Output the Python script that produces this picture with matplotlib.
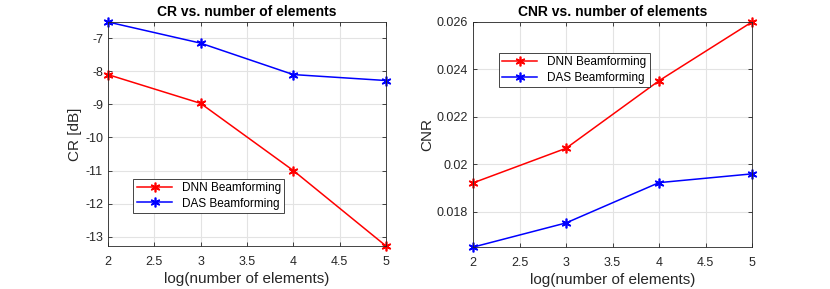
import matplotlib
matplotlib.use('Agg')
import matplotlib.pyplot as plt

plt.rcParams['font.family'] = ['Liberation Sans', 'DejaVu Sans']

# datos
x = [2, 3, 4, 5]
cr_dnn = [-8.10, -8.97, -11.00, -13.28]
cr_das = [-6.51, -7.15, -8.10, -8.28]
cnr_dnn = [0.01921, 0.02067, 0.02352, 0.02600]
cnr_das = [0.01650, 0.01752, 0.01922, 0.01959]

xticks = [2, 2.5, 3, 3.5, 4, 4.5, 5]
xticklabels = ['2', '2.5', '3', '3.5', '4', '4.5', '5']
cr_ticks = [-13, -12, -11, -10, -9, -8, -7]
cnr_ticks = [0.018, 0.020, 0.022, 0.024, 0.026]
cnr_ticklabels = ['0.018', '0.02', '0.022', '0.024', '0.026']

fig = plt.figure(figsize=(8.3, 2.89), dpi=100)
ax1 = fig.add_axes([0.130, 0.149, 0.335, 0.775])
ax2 = fig.add_axes([0.570, 0.145, 0.336, 0.779])

asterisco = (6, 2, 0)  # como el '*' de matlab


def estilo(ax):
    ax.grid(True, color='#e3e3e3', linewidth=0.8)
    ax.set_axisbelow(True)
    for s in ax.spines.values():
        s.set_color('#262626')
        s.set_linewidth(0.6)
    ax.tick_params(direction='in', length=3, width=0.6, colors='#262626',
                   labelsize=9, top=True, right=True, labeltop=False, labelright=False)
    ax.tick_params(axis='x', pad=7)
    ax.set_xticks(xticks)
    ax.set_xticklabels(xticklabels)
    ax.set_xlim(2, 5)


def series(ax, dnn, das):
    ax.plot(x, dnn, color='red', marker=asterisco, markersize=7, markeredgewidth=1.2,
            linewidth=1.1, label='DNN Beamforming', clip_on=False)
    ax.plot(x, das, color='blue', marker=asterisco, markersize=7, markeredgewidth=1.2,
            linewidth=1.1, label='DAS Beamforming', clip_on=False)


series(ax1, cr_dnn, cr_das)
estilo(ax1)
ax1.set_ylim(min(cr_dnn), max(cr_das))
ax1.set_yticks(cr_ticks)
ax1.set_yticklabels([str(t) for t in cr_ticks])
ax1.set_title('CR vs. number of elements', fontsize=10, fontweight='bold', pad=4)
ax1.set_xlabel('log(number of elements)', fontsize=11, color='#262626', labelpad=3)
ax1.set_ylabel('CR [dB]', fontsize=11, color='#262626', labelpad=2)
leg1 = ax1.legend(loc='lower left', bbox_to_anchor=(0.07, 0.12), fontsize=8.5, fancybox=False,
                  edgecolor='#262626', framealpha=1, borderpad=0.3, handlelength=3, labelspacing=0.3)
leg1.get_frame().set_linewidth(0.6)

series(ax2, cnr_dnn, cnr_das)
estilo(ax2)
ax2.set_ylim(min(cnr_das), max(cnr_dnn))
ax2.set_yticks(cnr_ticks)
ax2.set_yticklabels(cnr_ticklabels)
ax2.set_title('CNR vs. number of elements', fontsize=10, fontweight='bold', pad=4)
ax2.set_xlabel('log(number of elements)', fontsize=11, color='#262626', labelpad=3)
ax2.set_ylabel('CNR', fontsize=11, color='#262626', labelpad=2)
leg2 = ax2.legend(loc='upper left', bbox_to_anchor=(0.07, 0.89), fontsize=8.5, fancybox=False,
                  edgecolor='#262626', framealpha=1, borderpad=0.3, handlelength=3, labelspacing=0.3)
leg2.get_frame().set_linewidth(0.6)

fig.savefig('out.png', dpi=100)
